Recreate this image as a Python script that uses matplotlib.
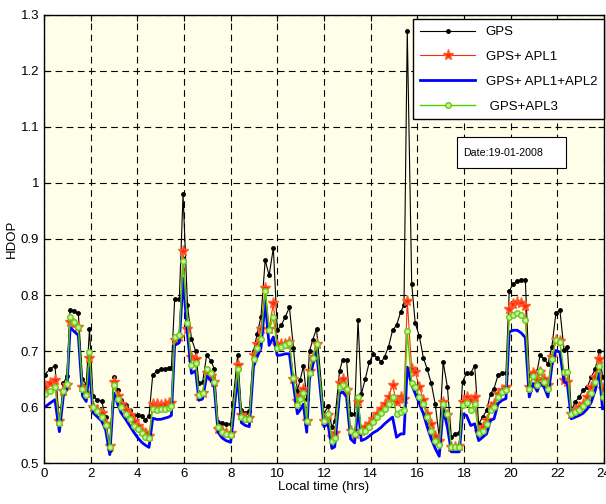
import numpy as np
import matplotlib
matplotlib.use("Agg")
from matplotlib import pyplot as plt
from matplotlib.patches import Rectangle

# local time (hrs)
hours = [0.04, 0.26, 0.47, 0.66, 0.83, 0.98,
         1.12, 1.29, 1.47, 1.65, 1.81, 1.95,
         2.10, 2.27, 2.47, 2.64, 2.82,
         2.99, 3.16, 3.30, 3.50, 3.68, 3.85, 4.02, 4.19, 4.34, 4.50,
         4.66, 4.83, 5.00, 5.17, 5.34, 5.46,
         5.60, 5.80, 5.96, 6.15, 6.32, 6.50, 6.64, 6.80, 6.97, 7.15, 7.30,
         7.46, 7.63, 7.80, 8.00,
         8.30, 8.46, 8.63, 8.80,
         8.98, 9.14, 9.30, 9.48, 9.65, 9.83,
         10.00, 10.17, 10.34, 10.52, 10.69, 10.86, 10.98, 11.12, 11.26, 11.38, 11.52, 11.68,
         12.00, 12.17, 12.34, 12.46, 12.67, 12.80, 12.97, 13.14, 13.31, 13.46,
         13.60, 13.77, 13.94, 14.11, 14.28, 14.46, 14.60, 14.77, 14.94, 15.11, 15.29, 15.43,
         15.57, 15.76, 15.91, 16.09, 16.26, 16.43, 16.60, 16.77, 16.94,
         17.11, 17.29, 17.46, 17.63, 17.80,
         17.94, 18.11, 18.29, 18.46, 18.63, 18.80, 18.97, 19.14, 19.29, 19.46, 19.63, 19.80,
         19.94, 20.11, 20.29, 20.46, 20.63,
         20.80, 20.97, 21.14, 21.26, 21.43, 21.60, 21.77, 21.94, 22.11, 22.29, 22.43,
         22.60, 22.77, 22.94, 23.11, 23.29, 23.46, 23.63, 23.80, 23.94]

gps = [0.658, 0.668, 0.674, 0.573, 0.642, 0.655,
       0.774, 0.771, 0.768, 0.650, 0.640, 0.739,
       0.620, 0.613, 0.611, 0.582, 0.523,
       0.654, 0.630, 0.613, 0.603, 0.594, 0.586, 0.585, 0.584, 0.577, 0.584,
       0.657, 0.664, 0.667, 0.668, 0.670, 0.670,
       0.792, 0.792, 0.980, 0.782, 0.722, 0.700, 0.642, 0.645, 0.692, 0.683, 0.668,
       0.573, 0.571, 0.570, 0.570,
       0.692, 0.594, 0.589, 0.593,
       0.700, 0.731, 0.761, 0.862, 0.835, 0.884,
       0.737, 0.746, 0.761, 0.778, 0.706, 0.628, 0.649, 0.673, 0.615, 0.700, 0.720, 0.740,
       0.588, 0.601, 0.564, 0.575, 0.665, 0.684, 0.684, 0.588, 0.588, 0.756,
       0.623, 0.650, 0.680, 0.694, 0.688, 0.680, 0.690, 0.708, 0.737, 0.746, 0.770, 0.782,
       1.272, 0.820, 0.750, 0.726, 0.688, 0.667, 0.642, 0.605, 0.546,
       0.680, 0.636, 0.546, 0.552, 0.554,
       0.645, 0.661, 0.661, 0.674, 0.570, 0.582, 0.594, 0.624, 0.633, 0.657, 0.660, 0.661,
       0.807, 0.820, 0.825, 0.827, 0.827,
       0.657, 0.654, 0.665, 0.692, 0.686, 0.677, 0.708, 0.767, 0.774, 0.702, 0.708,
       0.594, 0.609, 0.618, 0.630, 0.636, 0.654, 0.668, 0.700, 0.654]

apl1 = [0.636, 0.642, 0.649, 0.575, 0.628, 0.640,
        0.752, 0.748, 0.742, 0.635, 0.625, 0.688,
        0.600, 0.595, 0.590, 0.570, 0.530,
        0.645, 0.620, 0.605, 0.595, 0.585, 0.575, 0.566, 0.558, 0.553, 0.548,
        0.605, 0.605, 0.603, 0.605, 0.607, 0.608,
        0.720, 0.725, 0.878, 0.740, 0.690, 0.685, 0.620, 0.625, 0.660, 0.655, 0.645,
        0.560, 0.557, 0.553, 0.553,
        0.675, 0.585, 0.580, 0.580,
        0.692, 0.712, 0.740, 0.812, 0.740, 0.785,
        0.710, 0.712, 0.713, 0.716, 0.650, 0.610, 0.620, 0.632, 0.575, 0.665, 0.690, 0.713,
        0.575, 0.585, 0.546, 0.554, 0.642, 0.650, 0.630, 0.558, 0.552, 0.609,
        0.558, 0.564, 0.570, 0.579, 0.588, 0.597, 0.606, 0.618, 0.639, 0.609, 0.618, 0.615,
        0.790, 0.668, 0.662, 0.636, 0.612, 0.588, 0.570, 0.549, 0.540,
        0.609, 0.585, 0.529, 0.529, 0.530,
        0.609, 0.618, 0.612, 0.618, 0.555, 0.564, 0.576, 0.600, 0.605, 0.624, 0.630, 0.636,
        0.775, 0.784, 0.787, 0.785, 0.781,
        0.636, 0.660, 0.648, 0.663, 0.650, 0.639, 0.689, 0.720, 0.718, 0.648, 0.645,
        0.588, 0.594, 0.600, 0.606, 0.618, 0.636, 0.654, 0.686, 0.633]

apl12 = [0.600, 0.607, 0.613, 0.556, 0.620, 0.632,
         0.742, 0.735, 0.728, 0.620, 0.610, 0.670,
         0.590, 0.583, 0.575, 0.560, 0.515,
         0.625, 0.605, 0.590, 0.578, 0.566, 0.555, 0.545, 0.537, 0.532, 0.528,
         0.580, 0.578, 0.578, 0.580, 0.582, 0.585,
         0.710, 0.715, 0.830, 0.730, 0.660, 0.665, 0.612, 0.615, 0.655, 0.648, 0.635,
         0.555, 0.545, 0.540, 0.537,
         0.655, 0.572, 0.567, 0.565,
         0.672, 0.690, 0.705, 0.790, 0.710, 0.725,
         0.692, 0.693, 0.695, 0.695, 0.640, 0.588, 0.595, 0.605, 0.555, 0.650, 0.675, 0.700,
         0.565, 0.570, 0.526, 0.529, 0.624, 0.627, 0.618, 0.543, 0.536, 0.600,
         0.540, 0.543, 0.548, 0.554, 0.558, 0.564, 0.570, 0.576, 0.582, 0.546, 0.552, 0.552,
         0.671, 0.640, 0.624, 0.606, 0.588, 0.564, 0.543, 0.526, 0.512,
         0.597, 0.564, 0.520, 0.520, 0.520,
         0.588, 0.585, 0.567, 0.570, 0.540, 0.546, 0.552, 0.576, 0.579, 0.606, 0.612, 0.615,
         0.734, 0.737, 0.737, 0.732, 0.724,
         0.618, 0.642, 0.628, 0.642, 0.636, 0.618, 0.674, 0.701, 0.698, 0.645, 0.642,
         0.579, 0.582, 0.585, 0.589, 0.597, 0.609, 0.630, 0.660, 0.597]

apl3 = [0.623, 0.628, 0.635, 0.571, 0.628, 0.641,
        0.760, 0.752, 0.742, 0.632, 0.622, 0.698,
        0.600, 0.593, 0.583, 0.568, 0.528,
        0.640, 0.615, 0.600, 0.588, 0.578, 0.567, 0.560, 0.553, 0.547, 0.545,
        0.597, 0.595, 0.596, 0.597, 0.598, 0.602,
        0.725, 0.728, 0.860, 0.750, 0.675, 0.678, 0.622, 0.625, 0.668, 0.660, 0.645,
        0.565, 0.555, 0.552, 0.550,
        0.668, 0.582, 0.578, 0.578,
        0.685, 0.705, 0.722, 0.808, 0.738, 0.760,
        0.705, 0.708, 0.710, 0.715, 0.652, 0.603, 0.615, 0.625, 0.575, 0.660, 0.687, 0.712,
        0.575, 0.587, 0.540, 0.545, 0.636, 0.640, 0.633, 0.558, 0.551, 0.618,
        0.557, 0.557, 0.564, 0.573, 0.582, 0.589, 0.597, 0.606, 0.618, 0.588, 0.591, 0.594,
        0.735, 0.642, 0.636, 0.618, 0.605, 0.582, 0.558, 0.540, 0.532,
        0.605, 0.588, 0.529, 0.529, 0.529,
        0.603, 0.607, 0.594, 0.605, 0.554, 0.558, 0.570, 0.595, 0.600, 0.618, 0.627, 0.631,
        0.761, 0.765, 0.767, 0.765, 0.756,
        0.633, 0.655, 0.640, 0.664, 0.645, 0.633, 0.686, 0.719, 0.716, 0.663, 0.663,
        0.588, 0.591, 0.595, 0.601, 0.609, 0.625, 0.645, 0.674, 0.618]

labels = ["GPS", "GPS+ APL1", "GPS+ APL1+APL2", " GPS+APL3"]
xticks = np.arange(0, 25, 2)
yticks = np.arange(0.5, 1.31, 0.1)

plt.rcParams["font.family"] = ["Liberation Sans", "DejaVu Sans"]
plt.rcParams["font.size"] = 9.5

fig = plt.figure(figsize=(6.06, 5.04), dpi=100)
ax = fig.add_axes([0.0726, 0.0813, 0.924, 0.889])
ax.set_facecolor("#fffee8")

ax.plot(hours, gps, color="black", lw=0.8, marker=".", ms=5, label=labels[0])
ax.plot(hours, apl1, color="#f03010", lw=0.8, marker="*", ms=8,
        mfc="#ff2a00", mec="#ff5a30", label=labels[1])
ax.plot(hours, apl12, color="#0000ff", lw=2, label=labels[2])
ax.plot(hours, apl3, color="#55cc00", lw=1, marker="o", ms=4,
        mfc="#c8f0a0", mec="#66cc11", label=labels[3])

ax.set_xlim(0, 24)
ax.set_ylim(0.5, 1.3)
ax.set_xticks(xticks)
ax.set_yticks(yticks)
ax.set_yticklabels(["%g" % round(v, 1) for v in yticks])
ax.tick_params(direction="in", top=True, right=True, length=4, labelsize=9.5)
ax.grid(True, color="black", lw=0.8, linestyle=(0, (6, 4)))
for s in ax.spines.values():
    s.set_linewidth(1.0)

ax.set_xlabel("Local time (hrs)", labelpad=1)
ax.set_ylabel("HDOP", labelpad=2)

leg = ax.legend(loc="upper right", bbox_to_anchor=(1.0, 0.99), handlelength=4.2,
                fancybox=False, framealpha=1, edgecolor="black", fontsize=9.5,
                borderaxespad=0.0, labelspacing=0.95, borderpad=0.5)
leg.get_frame().set_linewidth(1.0)

# date box
ax.add_patch(Rectangle((0.737, 0.658), 0.196, 0.069, transform=ax.transAxes,
                       facecolor="white", edgecolor="black", lw=0.8, zorder=5))
ax.text(0.748, 0.693, "Date:19-01-2008", transform=ax.transAxes, fontsize=7.7,
        va="center", ha="left", zorder=6)

fig.savefig("out.png", dpi=100)
